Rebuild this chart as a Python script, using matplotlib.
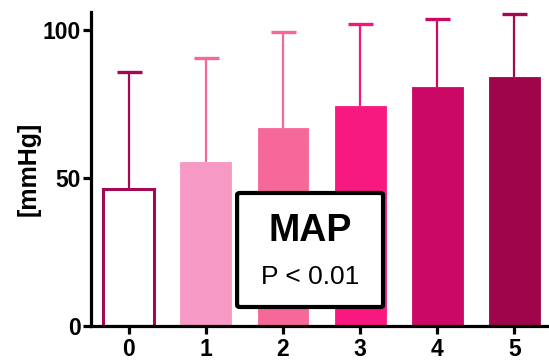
import matplotlib
matplotlib.use("Agg")
import matplotlib.pyplot as plt
from matplotlib.patches import FancyBboxPatch

plt.rcParams['font.family'] = ['Liberation Sans', 'DejaVu Sans']

# Mean arterial pressure per group (mean + upper SD)
groups = ["0", "1", "2", "3", "4", "5"]
means = [46.3, 55.4, 66.8, 74.3, 80.7, 84.1]
sd_upper = [39.3, 35.0, 32.5, 27.5, 23.0, 21.1]
y_ticks = [0, 50, 100]

fill_colors = ["white", "#F799C5", "#F7689A", "#F7197F", "#CC0866", "#9E054A"]
edge_colors = ["#A10A50", "#F799C5", "#F7689A", "#F7197F", "#CC0866", "#9E054A"]
err_colors = ["#A10A50", "#F5679C", "#F7689A", "#F0197E", "#CC0866", "#A00A50"]

fig = plt.figure(figsize=(5.49, 3.61), dpi=100)
ax = fig.add_axes([91 / 549, 35 / 361, 458 / 549, 314 / 361])

x = list(range(len(groups)))
for i in x:
    lw = 2.2 if i == 0 else 0.6
    top = means[i] + sd_upper[i]
    ax.bar(i, means[i], width=0.66, color=fill_colors[i],
           edgecolor=edge_colors[i], linewidth=lw, zorder=2)
    # one-sided error bar: stem from the bar top plus a cap
    ax.vlines(i, means[i], top, colors=err_colors[i], linewidth=1.6, zorder=1)
    ax.plot([i], [top], marker="_", markersize=18, markeredgewidth=2.4,
            color=err_colors[i], zorder=1)

ax.set_xlim(-0.49, 5.45)
ax.set_ylim(0, 106)
ax.set_xticks(x)
ax.set_xticklabels(groups)
ax.set_yticks(y_ticks)

for side in ("top", "right"):
    ax.spines[side].set_visible(False)
for side in ("left", "bottom"):
    ax.spines[side].set_linewidth(2.3)
    ax.spines[side].set_zorder(3)

ax.tick_params(axis="both", width=2.3, length=5.5, labelsize=16.5)
ax.tick_params(axis="x", pad=3)
ax.tick_params(axis="y", pad=2)
for lbl in ax.get_xticklabels() + ax.get_yticklabels():
    lbl.set_fontweight("bold")

ax.set_ylabel("[mmHg]", fontsize=18, fontweight="bold", labelpad=1)

# Annotation box with test name and p-value
box = FancyBboxPatch((0.319, 0.0605), 0.3186, 0.3631,
                     boxstyle="round,pad=0,rounding_size=0.006",
                     transform=ax.transAxes, facecolor="white",
                     edgecolor="black", linewidth=3.0, zorder=5)
ax.add_patch(box)
ax.text(0.478, 0.3025, "MAP", transform=ax.transAxes, ha="center",
        va="center", fontsize=27, fontweight="bold", zorder=6)
ax.text(0.478, 0.156, "P < 0.01", transform=ax.transAxes, ha="center",
        va="center", fontsize=19, zorder=6)

fig.savefig("out.png", dpi=100)
